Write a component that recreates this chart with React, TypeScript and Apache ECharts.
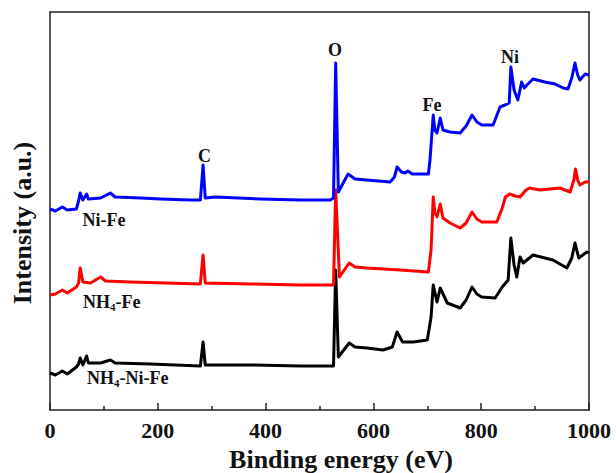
import React, { useEffect, useRef } from "react";
import * as echarts from "echarts";

// Binding energy (eV) vs intensity (a.u., offset traces)
const niFe: [number, number][] = [
  [0, 201], [10, 199], [23, 203], [32, 200], [49, 201], [53, 209], [56, 217], [61, 210],
  [68, 216], [71, 211], [94, 212], [112, 217], [121, 213], [168, 212], [205, 211], [260, 210],
  [279, 210], [284, 245], [288, 212], [307, 213], [390, 211], [464, 210], [520, 210], [526, 212],
  [530, 347], [535, 218], [553, 236], [566, 231], [588, 230], [631, 228], [639, 233], [644, 243],
  [652, 238], [659, 237], [664, 239], [672, 236], [702, 236], [705, 250], [711, 295], [714, 280],
  [718, 277], [724, 292], [729, 280], [742, 278], [761, 277], [772, 284], [783, 295], [792, 288],
  [801, 285], [822, 285], [835, 303], [844, 305], [852, 307], [855, 343], [861, 320], [868, 310],
  [875, 328], [880, 322], [885, 325], [896, 331], [918, 328], [937, 326], [952, 322], [961, 321],
  [968, 332], [974, 347], [979, 335], [983, 330], [993, 336], [1000, 335],
];

const nh4Fe: [number, number][] = [
  [0, 115], [10, 116], [23, 120], [32, 117], [49, 123], [53, 127], [56, 142], [61, 128],
  [75, 127], [94, 133], [103, 129], [149, 128], [279, 126], [284, 155], [288, 127], [372, 126],
  [464, 125], [526, 125], [530, 220], [537, 133], [555, 147], [566, 143], [588, 142], [650, 140],
  [702, 138], [707, 160], [711, 213], [714, 198], [718, 193], [724, 206], [729, 192], [742, 187],
  [761, 182], [772, 187], [783, 198], [792, 191], [801, 188], [829, 188], [839, 202], [845, 213],
  [853, 216], [863, 214], [872, 213], [883, 220], [890, 222], [909, 220], [946, 222], [965, 218],
  [972, 230], [975, 241], [979, 230], [983, 225], [993, 228], [1000, 228],
];

const nh4NiFe: [number, number][] = [
  [0, 37], [10, 35], [23, 39], [32, 36], [49, 43], [53, 46], [56, 52], [61, 45],
  [68, 54], [71, 47], [94, 47], [112, 50], [121, 47], [186, 46], [279, 44], [284, 68],
  [288, 45], [372, 45], [464, 44], [526, 44], [530, 140], [535, 53], [555, 67], [566, 63],
  [588, 62], [618, 60], [635, 63], [644, 78], [654, 68], [674, 68], [700, 70], [707, 93],
  [711, 125], [718, 108], [724, 122], [737, 107], [761, 102], [772, 110], [783, 123], [792, 116],
  [801, 113], [826, 112], [839, 123], [850, 130], [855, 172], [861, 145], [866, 133], [872, 153],
  [878, 147], [896, 155], [933, 150], [959, 142], [968, 152], [974, 167], [981, 152], [996, 158],
  [1000, 157],
];

const xTicks = [0, 200, 400, 600, 800, 1000];

const FONT = "'Liberation Serif', 'Times New Roman', serif";

export default function App() {
  const ref = useRef<HTMLDivElement>(null);
  useEffect(() => {
    if (!ref.current) return;
    const chart = echarts.init(ref.current, null, { renderer: "svg" });
    const lineSeries = (name: string, data: [number, number][], color: string) => ({
      name,
      type: "line",
      data,
      showSymbol: false,
      symbol: "none",
      lineStyle: { color, width: 3, join: "round" },
      z: 2,
    });
    const txt = (text: string, x: number, y: number, size = 18, align = "center") => ({
      type: "text",
      x,
      y,
      style: {
        text,
        fontFamily: FONT,
        fontWeight: "bold",
        fontSize: size,
        fill: "#111",
        align,
        verticalAlign: "middle",
        rich: {
          sub: { fontFamily: FONT, fontWeight: "bold", fontSize: 11, fill: "#111", padding: [10, 0, 0, 0] },
        },
      },
    });
    chart.setOption({
      animation: false,
      backgroundColor: "#fff",
      grid: { left: 50, right: 27, top: 12, bottom: 63 },
      xAxis: [
        {
          type: "value",
          min: xTicks[0],
          max: xTicks[xTicks.length - 1],
          interval: 200,
          axisLine: { lineStyle: { color: "#222", width: 1.5 } },
          axisTick: { inside: true, length: 7, lineStyle: { color: "#222", width: 1.5 } },
          minorTick: { show: true, splitNumber: 2, length: 4, lineStyle: { color: "#222", width: 1.5 } },
          splitLine: { show: false },
          axisLabel: {
            fontFamily: FONT,
            fontWeight: "bold",
            fontSize: 22,
            color: "#111",
            margin: 9,
            formatter: (v: number) => String(v),
          },
        },
        {
          type: "value",
          position: "top",
          min: 0,
          max: 1000,
          axisLine: { show: true, onZero: false, lineStyle: { color: "#222", width: 1.5 } },
          axisTick: { show: false },
          axisLabel: { show: false },
          splitLine: { show: false },
        },
      ],
      yAxis: [
        {
          type: "value",
          min: 0,
          max: 398,
          axisLine: { show: true, onZero: false, lineStyle: { color: "#222", width: 1.5 } },
          axisTick: { show: false },
          axisLabel: { show: false },
          splitLine: { show: false },
        },
        {
          type: "value",
          position: "right",
          min: 0,
          max: 398,
          axisLine: { show: true, onZero: false, lineStyle: { color: "#222", width: 1.5 } },
          axisTick: { show: false },
          axisLabel: { show: false },
          splitLine: { show: false },
        },
      ],
      series: [
        lineSeries("NH4-Ni-Fe", nh4NiFe, "#000000"),
        lineSeries("NH4-Fe", nh4Fe, "#ff0000"),
        lineSeries("Ni-Fe", niFe, "#0000ff"),
      ],
      graphic: [
        txt("C", 204.5, 156),
        txt("O", 335, 50),
        txt("Fe", 432, 105),
        txt("Ni", 510, 57),
        txt("Ni-Fe", 104, 220),
        txt("NH{sub|4}-Fe", 83, 302, 18, "left"),
        txt("NH{sub|4}-Ni-Fe", 87, 378, 18, "left"),
        txt("Binding energy (eV)", 341, 459, 26),
        {
          type: "text",
          x: 22,
          y: 223,
          rotation: Math.PI / 2,
          style: {
            text: "Intensity (a.u.)",
            fontFamily: FONT,
            fontWeight: "bold",
            fontSize: 26,
            fill: "#111",
            align: "center",
            verticalAlign: "middle",
          },
        },
      ],
    });
    return () => chart.dispose();
  }, []);
  return (
    <div
      ref={ref}
      style={{ position: "absolute", left: 0, top: 0, width: 616, height: 473, background: "#fff" }}
    />
  );
}
